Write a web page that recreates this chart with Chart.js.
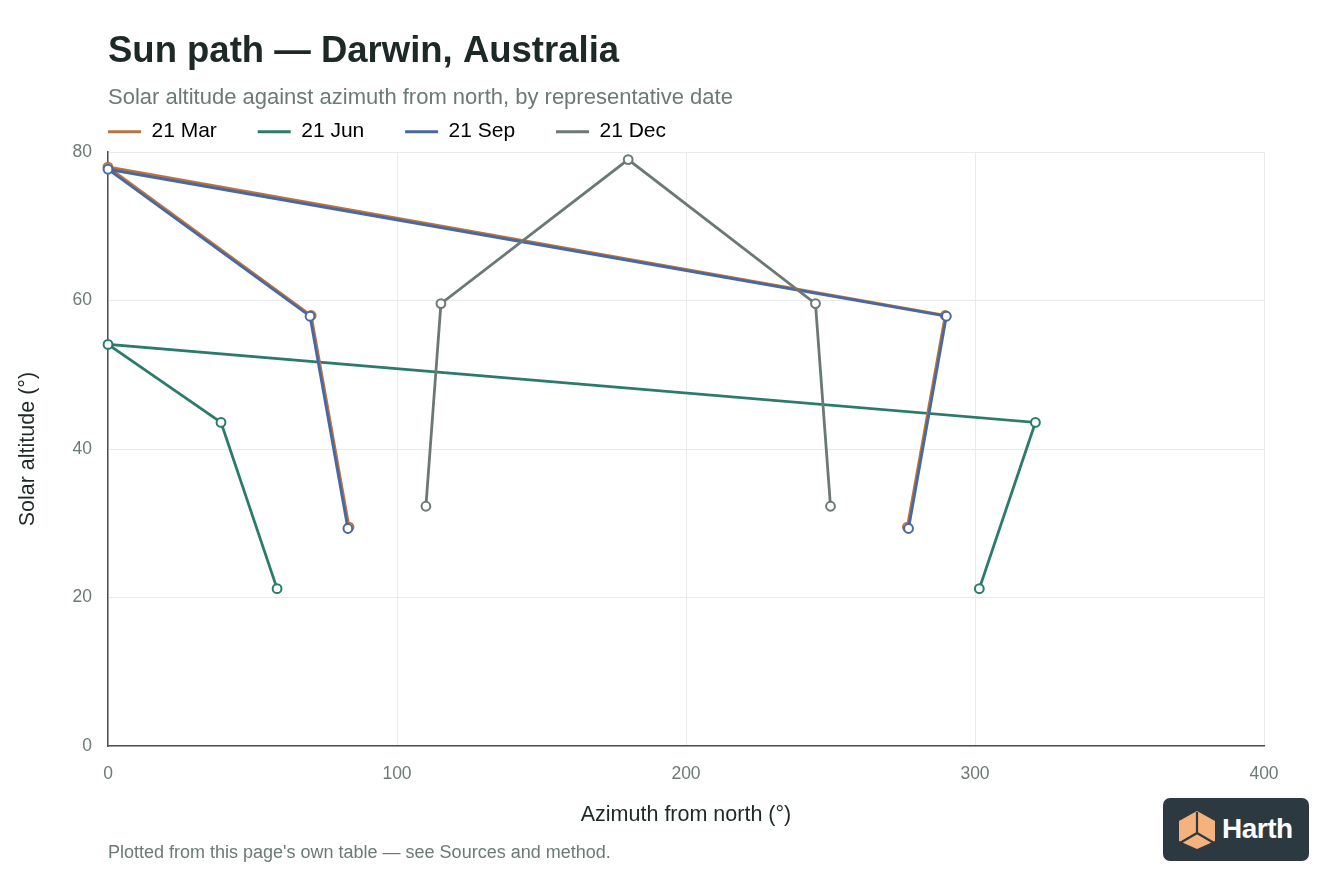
<!DOCTYPE html>
<html>
<head>
<meta charset="utf-8">
<script src="https://cdn.jsdelivr.net/npm/chart.js@4"></script>
<style>
  html, body { margin: 0; padding: 0; background: #fff; }
  body { width: 1344px; height: 896px; position: relative; overflow: hidden; font-family: "Liberation Sans", Arial, sans-serif; }
  #wrap { position: absolute; left: 0; top: 0; width: 1344px; height: 896px; }
  .footnote { position: absolute; left: 108px; top: 842px; font-size: 18px; color: #6b7a77; }
  .logo { position: absolute; left: 1163px; top: 798px; width: 146px; height: 63px; background: #2d3940; border-radius: 7px; }
  .logo svg { position: absolute; left: 13px; top: 11px; }
  .logo span { position: absolute; left: 59px; top: 15px; font-size: 28px; font-weight: bold; color: #fff; letter-spacing: -0.5px; }
</style>
</head>
<body>
<div id="wrap"><canvas id="chart"></canvas></div>
<div class="footnote">Plotted from this page's own table — see Sources and method.</div>
<div class="logo">
  <svg width="42" height="42" viewBox="0 0 42 42">
    <polygon points="21,2 39,12 39,32 21,40 3,32 3,12" fill="#f6b27c"/>
    <polyline points="21,3 21,24 4,34" fill="none" stroke="#2d3940" stroke-width="2.2"/>
    <polyline points="21,24 38,34" fill="none" stroke="#2d3940" stroke-width="2.2"/>
  </svg>
  <span>Harth</span>
</div>
<script>
const FONT = '"Liberation Sans", Arial, sans-serif';
const LEGEND_SIZE = 21;
const LEGEND_LINE = 33;
const LEGEND_STEP = 150;

// Azimuth from north (deg) and solar altitude (deg), morning -> evening
const seriesNames = ['21 Mar', '21 Jun', '21 Sep', '21 Dec'];
const seriesColors = ['#b87440', '#2b7a6b', '#4a67a0', '#6b7873'];
const drawOrder = [3, 4, 2, 1]; // lower = drawn on top

const marAzimuth = [83.4, 70.3, 0, 289.7, 276.6];
const marAltitude = [29.5, 58.0, 78.0, 58.0, 29.5];

const junAzimuth = [58.5, 39.1, 0, 320.9, 301.5];
const junAltitude = [21.2, 43.6, 54.1, 43.6, 21.2];

const sepAzimuth = [83.0, 69.9, 0, 290.1, 277.0];
const sepAltitude = [29.3, 57.9, 77.7, 57.9, 29.3];

const decAzimuth = [110.0, 115.2, 180.0, 244.8, 250.0];
const decAltitude = [32.3, 59.6, 79.0, 59.6, 32.3];

const xTicks = [0, 100, 200, 300, 400];
const yTicks = [0, 20, 40, 60, 80];

const azimuths = [marAzimuth, junAzimuth, sepAzimuth, decAzimuth];
const altitudes = [marAltitude, junAltitude, sepAltitude, decAltitude];

const datasets = seriesNames.map((name, i) => ({
  label: name,
  data: azimuths[i].map((az, j) => ({ x: az, y: altitudes[i][j] })),
  showLine: true,
  clip: false,
  borderColor: seriesColors[i],
  backgroundColor: seriesColors[i],
  borderWidth: 2.8,
  pointRadius: 4.4,
  pointBorderWidth: 2,
  pointBackgroundColor: '#fff',
  pointBorderColor: seriesColors[i],
  order: drawOrder[i],
}));

// pad legend text so every item takes about the same width
function padLabel(ctx, text) {
  ctx.save();
  ctx.font = `${LEGEND_SIZE}px ${FONT}`;
  const target = LEGEND_STEP - LEGEND_LINE - LEGEND_SIZE / 2;
  let t = text;
  while (Math.abs(ctx.measureText(t + ' ').width - target) < Math.abs(ctx.measureText(t).width - target)) t += ' ';
  ctx.restore();
  return t;
}

new Chart(document.getElementById('chart'), {
  type: 'scatter',
  data: { datasets },
  options: {
    responsive: true,
    maintainAspectRatio: false,
    animation: false,
    layout: { padding: { top: 0, left: 11, right: 80, bottom: 64 } },
    plugins: {
      title: {
        display: true,
        text: 'Sun path — Darwin, Australia',
        align: 'start',
        fullSize: false,
        color: '#1d2926',
        font: { family: FONT, size: 36.5, weight: 'bold' },
        padding: { top: 30, bottom: 0 },
      },
      subtitle: {
        display: true,
        text: 'Solar altitude against azimuth from north, by representative date',
        align: 'start',
        fullSize: false,
        color: '#6b7a77',
        font: { family: FONT, size: 22 },
        padding: { top: 10.5, bottom: 10.5 },
      },
      legend: {
        position: 'top',
        align: 'start',
        fullSize: false,
        labels: {
          usePointStyle: true,
          pointStyle: 'line',
          pointStyleWidth: LEGEND_LINE,
          padding: 0,
          color: '#1d2926',
          font: { family: FONT, size: LEGEND_SIZE },
          sort: (a, b) => a.datasetIndex - b.datasetIndex,
          generateLabels(chart) {
            return chart.data.datasets.map((ds, i) => ({
              text: padLabel(chart.ctx, ds.label),
              strokeStyle: ds.borderColor,
              fillStyle: ds.borderColor,
              lineWidth: 3,
              pointStyle: 'line',
              datasetIndex: i,
              hidden: !chart.isDatasetVisible(i),
            }));
          },
        },
      },
      tooltip: { enabled: false },
    },
    scales: {
      x: {
        type: 'linear',
        min: 0,
        max: 400,
        afterBuildTicks: (axis) => { axis.ticks = xTicks.map(v => ({ value: v })); },
        afterFit: (axis) => { axis.height = 86; },
        grid: { color: '#e8ebea', drawTicks: false },
        border: { color: '#4b5050', width: 1.5 },
        ticks: { color: '#6b7a77', font: { family: FONT, size: 17.5 }, padding: 18 },
        title: {
          display: true,
          text: 'Azimuth from north (°)',
          color: '#1d2926',
          font: { family: FONT, size: 21.5 },
          padding: { top: 4, bottom: 4 },
        },
      },
      y: {
        type: 'linear',
        min: 0,
        max: 80,
        afterBuildTicks: (axis) => { axis.ticks = yTicks.map(v => ({ value: v })); },
        afterFit: (axis) => { axis.width = 97; },
        grid: { color: '#e8ebea', drawTicks: false },
        border: { color: '#4b5050', width: 1.5 },
        ticks: { color: '#6b7a77', font: { family: FONT, size: 17.5 }, padding: 16 },
        title: {
          display: true,
          text: 'Solar altitude (°)',
          color: '#1d2926',
          font: { family: FONT, size: 21.5 },
          padding: { top: 4, bottom: 4 },
        },
      },
    },
  },
});
</script>
</body>
</html>
